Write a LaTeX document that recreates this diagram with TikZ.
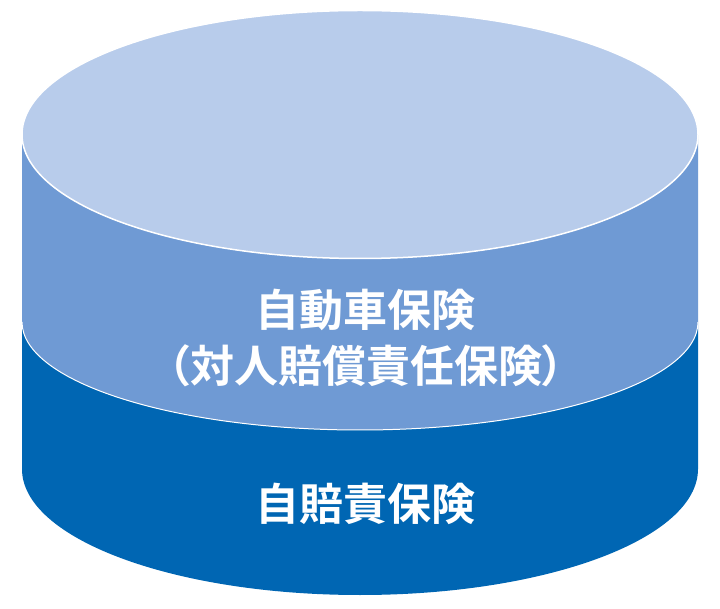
\documentclass[tikz,border=0pt]{standalone}
\usepackage{fontspec}
\newfontfamily\jp[RawFeature=+palt]{Noto Sans CJK JP Bold}
\definecolor{toplight}{HTML}{B8CCEB}
\definecolor{midblue}{HTML}{6F9AD4}
\definecolor{darkblue}{HTML}{0066B3}
\begin{document}
\begin{tikzpicture}[x=1pt,y=1pt,
  label/.style={text=white,font=\jp\fontsize{44}{50}\selectfont,inner sep=0pt,anchor=base}]
\useasboundingbox (0,0) rectangle (720,608);
\fill[white] (0,0) rectangle (720,608);
% bottom band
\fill[darkblue] (22,286) -- (22,139) arc[start angle=180,end angle=360,x radius=338,y radius=126] -- (698,286) -- cycle;
% middle band
\fill[midblue] (22,473.5) -- (22,286) arc[start angle=180,end angle=360,x radius=338,y radius=108] -- (698,473.5) -- cycle;
\draw[white,line width=1pt] (22,286) arc[start angle=180,end angle=360,x radius=338,y radius=108];
% top ellipse
\filldraw[fill=toplight,draw=white,line width=1.5pt] (360,473.5) ellipse[x radius=338,y radius=124];
% labels
\node[label] (l1) at (365,281.3) {自動車保険};
\node[label] (l2) at (366,225.3) {（対人賠償責任保険）};
\node[label] (l3) at (365,87.3) {自賠責保険};
\end{tikzpicture}
\end{document}
